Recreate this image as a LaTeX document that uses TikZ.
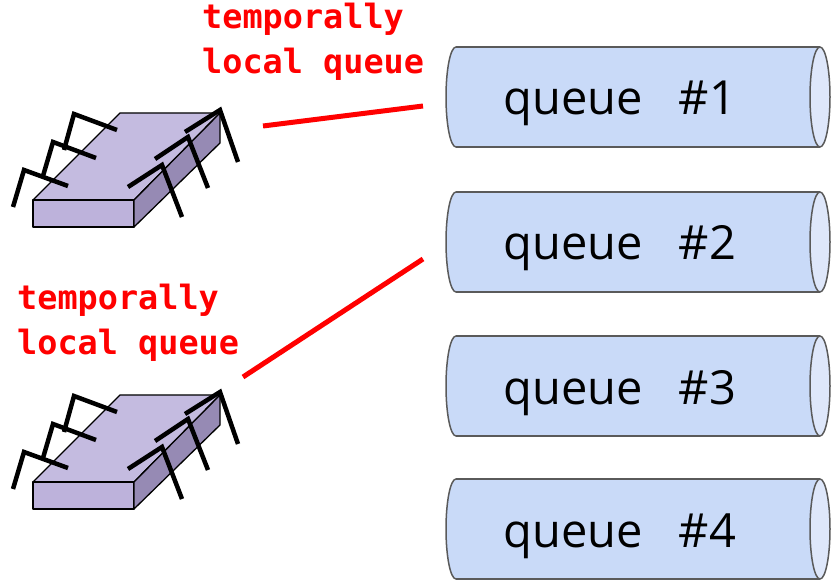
\documentclass[tikz,border=0pt]{standalone}
\usepackage{fontspec}
\setmainfont{Open Sans}
\newfontfamily\labelmono{DejaVu Sans Mono}

\definecolor{chiptop}{RGB}{196,187,224}
\definecolor{chipfront}{RGB}{189,178,219}
\definecolor{chipside}{RGB}{150,138,180}
\definecolor{qbody}{RGB}{201,218,248}
\definecolor{qend}{RGB}{222,231,250}
\definecolor{qline}{RGB}{90,90,90}
\definecolor{linkred}{RGB}{255,0,0}

\tikzset{
  chipface/.style={draw=black, line width=1.3pt, line join=round},
  chippin/.style={draw=black, line width=4.5pt, line join=miter},
  redlink/.style={draw=linkred, line width=5pt},
  redlabel/.style={text=linkred, font=\labelmono\bfseries\fontsize{33.5}{45}\selectfont,
                   align=left, inner sep=0pt, anchor=base west},
  qtext/.style={font=\fontsize{47}{56}\selectfont, inner sep=0pt, anchor=base},
  qoutline/.style={draw=qline, line width=1.5pt},
  % a chip seen in perspective, with three bent legs on each side
  chip/.pic={
    \path[chipface, fill=chiptop] (33,200) -- (134,200) -- (220,113) -- (120,113) -- cycle;
    \path[chipface, fill=chipfront] (33,200) rectangle (134,227);
    \path[chipface, fill=chipside] (134,200) -- (220,113) -- (220,143) -- (134,227) -- cycle;
    \draw[chippin] (117,130) -- (74,114) -- (64,150);
    \draw[chippin] (96,158) -- (53,142) -- (43,176);
    \draw[chippin] (68,186) -- (24,170) -- (13,207);
    \draw[chippin] (185,132) -- (220,110) -- (238,162);
    \draw[chippin] (155,159) -- (188,137) -- (208,188);
    \draw[chippin] (128,187) -- (162,165) -- (182,217);
  },
  % a horizontal cylinder, centred vertically on the pic origin
  queuecyl/.pic={
    \path[qoutline, fill=qbody] (456,0) ellipse[x radius=10, y radius=50];
    \fill[qbody] (456,-50) rectangle (820,50);
    \draw[qoutline] (456,-50) -- (820,-50) (456,50) -- (820,50);
    \path[qoutline, fill=qend] (820,0) ellipse[x radius=10, y radius=50];
  }
}

\begin{document}
\begin{tikzpicture}[x=1pt, y=-1pt]
  \useasboundingbox (0,0) rectangle (831,580);

  % queues
  \pic at (0,97)  {queuecyl};
  \pic at (0,242) {queuecyl};
  \pic at (0,386) {queuecyl};
  \pic at (0,529) {queuecyl};
  \node[qtext] (q1) at (620,115) {queue\hspace{36pt}\#1};
  \node[qtext] (q2) at (620,260) {queue\hspace{36pt}\#2};
  \node[qtext] (q3) at (620,404) {queue\hspace{36pt}\#3};
  \node[qtext] (q4) at (620,547) {queue\hspace{36pt}\#4};

  % chips
  \pic at (0,0)   {chip};
  \pic at (0,282) {chip};

  % labels (anchored on the baseline of their last line)
  \node[redlabel] (labA) at (202,74)  {temporally\\local queue};
  \node[redlabel] (labB) at (17,355)  {temporally\\local queue};

  % links from the chips towards the queues
  \coordinate (chipA) at (263,126);
  \coordinate (inA)   at (423,106);
  \coordinate (chipB) at (243,377);
  \coordinate (inB)   at (423,259);
  \draw[redlink] (chipA) -- (inA);
  \draw[redlink] (chipB) -- (inB);
\end{tikzpicture}
\end{document}
